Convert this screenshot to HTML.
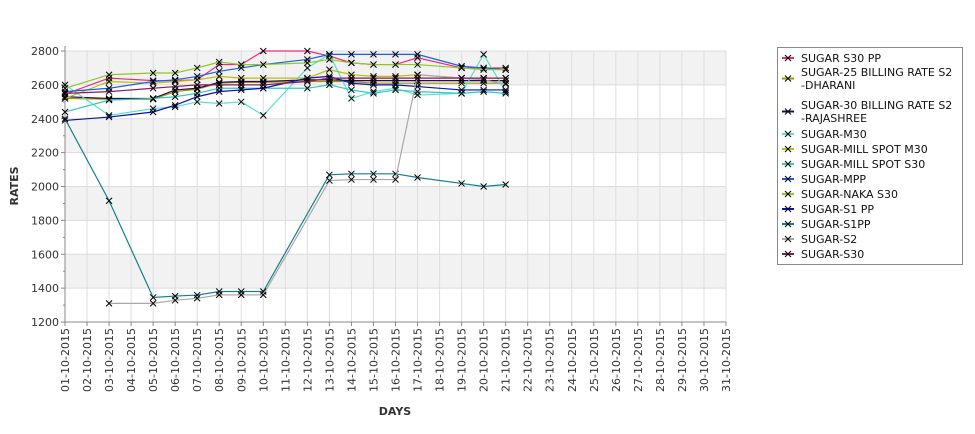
<!DOCTYPE html>
<html><head><meta charset="utf-8"><style>
body{margin:0;background:#fff;font-family:"Liberation Sans","DejaVu Sans",sans-serif}
</style></head><body>
<svg id="c" width="975" height="429" xmlns="http://www.w3.org/2000/svg" style="font-family:'DejaVu Sans','Liberation Sans',sans-serif"></svg>
<script>
const days=[1,3,5,6,7,8,9,10,12,13,14,15,16,17,19,20,21];
const seriesNames=["SUGAR S30 PP","SUGAR-25 BILLING RATE S2 -DHARANI","SUGAR-30 BILLING RATE S2 -RAJASHREE","SUGAR-M30","SUGAR-MILL SPOT M30","SUGAR-MILL SPOT S30","SUGAR-MPP","SUGAR-NAKA S30","SUGAR-S1 PP","SUGAR-S1PP","SUGAR-S2","SUGAR-S30"];
const colors=["#ee2a7b","#9a9a00","#2a0a50","#55e0cc","#b8c000","#30c8c8","#1a5ee8","#8cc828","#0a10b4","#12808f","#a8a8a8","#8b1a5c"];
const sS30PP=[2545,2640,2625,2625,2630,2720,2720,2800,2800,2770,2730,2720,2720,2760,2700,2700,2700];
const sDharani=[2520,2515,2515,2560,2575,2610,2615,2615,2620,2620,2620,2610,2610,2610,2610,2610,2610];
const sRajashree=[2530,2520,2520,2570,2580,2615,2620,2620,2630,2630,2625,2625,2625,2625,2625,2625,2625];
const sM30=[2600,2420,2460,2470,2500,2490,2500,2420,2700,2780,2520,2560,2580,2540,2550,2780,2560];
const sMillM30=[2520,2620,2610,2620,2630,2650,2640,2640,2640,2690,2660,2650,2650,2660,2640,2640,2640];
const sMillS30=[2440,2510,2520,2530,2550,2580,2580,2580,2580,2600,2570,2550,2570,2560,2550,2560,2550];
const sMPP=[2560,2580,2620,2630,2650,2680,2700,2720,2750,2780,2780,2780,2780,2780,2710,2700,2690];
const sNaka=[2580,2660,2670,2670,2700,2735,2720,2720,2730,2750,2730,2720,2720,2720,2700,2690,2690];
const sS1PP=[2390,2410,2440,2480,2530,2560,2570,2580,2640,2650,2610,2600,2600,2590,2570,2570,2570];
const sS1PP2=[2400,1916,1345,1353,1359,1380,1380,1380,null,2069,2075,2075,2075,2053,2018,2000,2012];
const sS2=[null,1310,1310,1328,1340,1360,1360,1360,null,2035,2041,2041,2041,2660,2640,2630,2605];
const sS30=[2550,2560,2580,2590,2600,2600,2600,2600,2620,2640,2640,2640,2640,2640,2640,2640,2640];
const allSeries=[sS30PP,sDharani,sRajashree,sM30,sMillM30,sMillS30,sMPP,sNaka,sS1PP,sS1PP2,sS2,sS30];
const yTicks=[1200,1400,1600,1800,2000,2200,2400,2600,2800];
const xLabels=[];for(let d=1;d<=31;d++)xLabels.push((d<10?"0":"")+d+"-10-2015");

const NS="http://www.w3.org/2000/svg",svg=document.getElementById("c");
const L=65,R=726,T=51,B=322;
const x=d=>L+(d-1)*(R-L)/30;
const y=v=>B-(v-1200)*(B-T)/1600;
function mk(t,a,p){const e=document.createElementNS(NS,t);for(const k in a)e.setAttribute(k,a[k]);(p||svg).appendChild(e);return e;}
// bands
for(let i=0;i<yTicks.length-1;i++){
  if(i%2===1){const r=mk("rect",{x:L,y:y(yTicks[i+1]),width:R-L,height:y(yTicks[i])-y(yTicks[i+1]),fill:"#f2f2f2"});
  
  }
}
for(let d=1;d<=31;d++){const g=mk("line",{x1:x(d),x2:x(d),y1:T,y2:B,stroke:"#dedede"});

}
yTicks.forEach(v=>{const g=mk("line",{x1:L,x2:R,y1:y(v),y2:y(v),stroke:"#dcdcdc"});


const t=mk("text",{x:L-6,y:y(v)+4,"text-anchor":"end","font-size":11,fill:"#333"});t.textContent=v;


mk("line",{x1:L-4,x2:L,y1:y(v),y2:y(v),stroke:"#888"});
const m=y(v)+17;if(v<2800)mk("line",{x1:L-2,x2:L,y1:m,y2:m,stroke:"#888"});});
mk("line",{x1:L,x2:L,y1:T-5,y2:B,stroke:"#888"});
mk("line",{x1:L,x2:R,y1:B,y2:B,stroke:"#888"});
xLabels.forEach((s,i)=>{const xx=x(i+1);mk("line",{x1:xx,x2:xx,y1:B,y2:B+4,stroke:"#888"});
const t=mk("text",{transform:`translate(${xx+4},${B+6}) rotate(-90)`,"text-anchor":"end","font-size":11,fill:"#333"});t.textContent=s;

});
const yt=mk("text",{transform:"translate(18,186) rotate(-90)","text-anchor":"middle","font-size":11,"font-weight":"bold",fill:"#333"});yt.textContent="RATES";


const xt=mk("text",{x:395,y:415,"text-anchor":"middle","font-size":11,"font-weight":"bold",fill:"#333"});xt.textContent="DAYS";


function cross(g,cx,cy){mk("path",{d:`M${cx-3},${cy-3}L${cx+3},${cy+3}M${cx-3},${cy+3}L${cx+3},${cy-3}`,stroke:"#000","stroke-width":1},g);}
allSeries.forEach((s,i)=>{const g=mk("g",{});


let pts=[];days.forEach((d,j)=>{if(s[j]!=null)pts.push([x(d),y(s[j])]);});
mk("polyline",{points:pts.map(p=>p.join(",")).join(" "),fill:"none",stroke:colors[i],"stroke-width":1.2},g);
pts.forEach(p=>cross(g,p[0],p[1]));});
// legend
const lg=mk("g",{});


mk("rect",{x:777.5,y:47.5,width:185,height:217,fill:"#fff",stroke:"#888"},lg);
const ly=[[58],[72,85],[105,118],[134],[149],[164],[179],[194],[209],[224],[239],[254]];
seriesNames.forEach((n,i)=>{const e=mk("g",{},lg);


const rows=ly[i];const my=(rows[0]+rows[rows.length-1])/2;
mk("line",{x1:782,x2:794,y1:my,y2:my,stroke:colors[i],"stroke-width":2},e);cross(e,788,my);
const parts=n.indexOf(" -")>0?[n.slice(0,n.indexOf(" -")),n.slice(n.indexOf(" -")+1)]:[n];
parts.forEach((p,k)=>{const t=mk("text",{x:801,y:rows[k]+4,"font-size":11,fill:"#111"},e);t.textContent=p;});});
</script>
</body></html>
